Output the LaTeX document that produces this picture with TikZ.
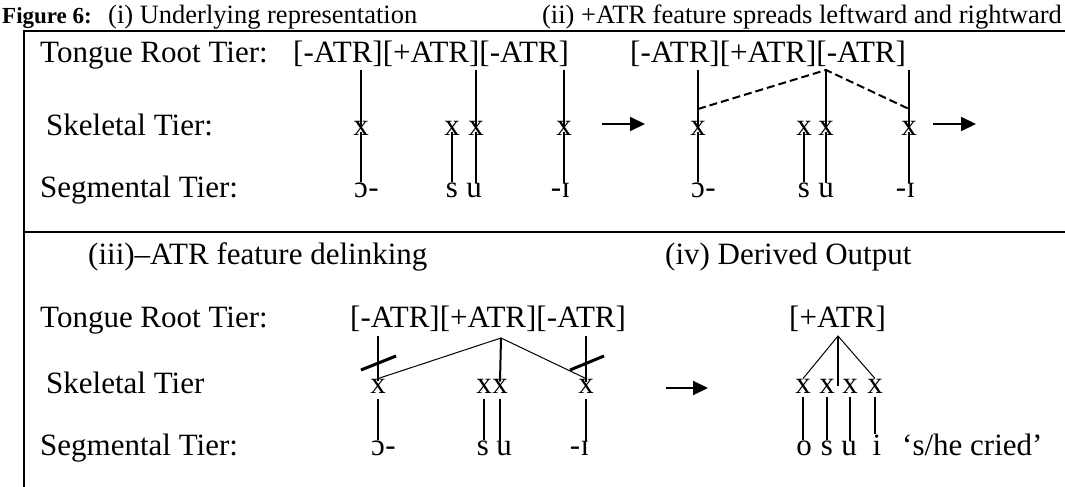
\documentclass[tikz,border=0pt]{standalone}
\usepackage{fontspec}
\setmainfont{Liberation Serif}
\usetikzlibrary{arrows.meta}
\begin{document}
\begin{tikzpicture}[x=1pt,y=-1pt,
  every node/.style={inner sep=0pt},
  lab/.style={anchor=base west,font=\fontsize{31}{37}\selectfont},
  captext/.style={anchor=base west,font=\fontsize{26.5}{31}\selectfont},
  seg/.style={anchor=base,font=\fontsize{31}{37}\selectfont},
  assoc/.style={line width=2pt},
  spread/.style={line width=2pt,dash pattern=on 8pt off 4pt},
  thinlink/.style={line width=1pt},
  cut/.style={line width=3pt},
  derive/.style={line width=2pt,-{Triangle[length=15pt,width=14pt]}},
  rule/.style={line width=2pt}]
\useasboundingbox (0,0) rectangle (1065,487);

% frame of the table
\coordinate (tl) at (24,31);
\coordinate (tr) at (1065,31);
\coordinate (bl) at (24,487);
\coordinate (ml) at (24,232);
\coordinate (mr) at (1065,232);
\draw[rule] (tr) -- (tl) -- (bl);
\draw[rule] (ml) -- (mr);

% caption
\node[anchor=base west,font=\fontsize{23}{28}\selectfont\bfseries] (fig) at (2,24) {Figure 6:};
\node[captext] (capi) at (108,24) {(i) Underlying representation};
\node[captext,anchor=base east] (capii) at (1062,24) {(ii) +ATR feature spreads leftward and rightward};

% ---------- (i) and (ii) ----------
\node[lab] (trA) at (40,63) {Tongue Root Tier:};
\node[lab] (ftA) at (293,63) {[-ATR][+ATR][-ATR]};
\node[lab] (ftB) at (630,63) {[-ATR][+ATR][-ATR]};
\node[lab] (skA) at (46,135) {Skeletal Tier:};
\node[lab] (sgA) at (40,197) {Segmental Tier:};

\coordinate (fA1) at (361,70);
\coordinate (fA2) at (476,70);
\coordinate (fA3) at (564,70);
\coordinate (fB1) at (698,70);
\coordinate (fB2) at (826,70);
\coordinate (fB3) at (909,70);

\node[seg] (xA1) at (361,135) {x};
\node[seg] (xA2) at (452,135) {x};
\node[seg] (xA3) at (476,135) {x};
\node[seg] (xA4) at (564,135) {x};
\node[seg] (xB1) at (698,135) {x};
\node[seg] (xB2) at (804,135) {x};
\node[seg] (xB3) at (826,135) {x};
\node[seg] (xB4) at (909,135) {x};

\node[seg] (oA) at (361,197) {ɔ};
\node[seg,anchor=base west] (hA1) at (oA.base east) {-};
\node[seg] (sA) at (452,197) {s};
\node[seg] (uA) at (474,197) {u};
\node[seg] (iA) at (566,197) {ɪ};
\node[seg,anchor=base east] (hA2) at (iA.base west) {-};

\node[seg] (oB) at (698,197) {ɔ};
\node[seg,anchor=base west] (hB1) at (oB.base east) {-};
\node[seg] (sB) at (804,197) {s};
\node[seg] (uB) at (826,197) {u};
\node[seg] (iB) at (911,197) {ɪ};
\node[seg,anchor=base east] (hB2) at (iB.base west) {-};

% association lines
\draw[assoc] (fA1) -- ([yshift=-5pt]xA1.north);
\draw[assoc] (fA2) -- ([yshift=-5pt]xA3.north);
\draw[assoc] (fA3) -- ([yshift=-5pt]xA4.north);
\draw[assoc] ([yshift=3pt]xA1.south) -- (xA1 |- oA.north);
\draw[assoc] ([yshift=3pt]xA2.south) -- (xA2 |- sA.north);
\draw[assoc] ([yshift=3pt]xA3.south) -- (xA3 |- uA.north);
\draw[assoc] ([yshift=3pt]xA4.south) -- (xA4 |- iA.north);

\draw[assoc] (fB1) -- ([yshift=-5pt]xB1.north);
\draw[assoc] (fB2) -- ([yshift=-5pt]xB3.north);
\draw[assoc] (fB3) -- ([yshift=-5pt]xB4.north);
\draw[assoc] ([yshift=3pt]xB1.south) -- (xB1 |- oB.north);
\draw[assoc] ([yshift=3pt]xB2.south) -- (xB2 |- sB.north);
\draw[assoc] ([yshift=3pt]xB3.south) -- (xB3 |- uB.north);
\draw[assoc] ([yshift=3pt]xB4.south) -- (xB4 |- iB.north);

% spreading of +ATR
\coordinate (dB1) at (698,109);
\coordinate (dB3) at (909,109);
\draw[spread] (dB1) -- (fB2) -- (dB3);

% derivation arrows
\coordinate (a1s) at (602,124);
\coordinate (a1e) at (645,124);
\coordinate (a2s) at (933,124);
\coordinate (a2e) at (976,124);
\draw[derive] (a1s) -- (a1e);
\draw[derive] (a2s) -- (a2e);

% ---------- (iii) and (iv) ----------
\node[lab] (capiii) at (88,264) {(iii)–ATR feature delinking};
\node[lab] (capiv) at (665,264) {(iv) Derived Output};
\node[lab] (trC) at (40,327) {Tongue Root Tier:};
\node[lab] (ftC) at (350,327) {[-ATR][+ATR][-ATR]};
\node[lab] (ftD) at (789,327) {[+ATR]};
\node[lab] (skC) at (46,393) {Skeletal Tier};
\node[lab] (sgC) at (40,455) {Segmental Tier:};

\coordinate (fC1) at (378,336);
\coordinate (fC2) at (501,338);
\coordinate (fC3) at (586,336);
\coordinate (fD) at (838,336);

\node[seg] (xC1) at (378,393) {x};
\node[seg] (xC2) at (484,393) {x};
\node[seg] (xC3) at (500,393) {x};
\node[seg] (xC4) at (586,393) {x};
\node[seg] (xD1) at (803,393) {x};
\node[seg] (xD2) at (827,393) {x};
\node[seg] (xD3) at (850,393) {x};
\node[seg] (xD4) at (875,393) {x};

\node[seg] (oC) at (378,455) {ɔ};
\node[seg,anchor=base west] (hC1) at (oC.base east) {-};
\node[seg] (sC) at (483,455) {s};
\node[seg] (uC) at (504,455) {u};
\node[seg] (iC) at (585,455) {ɪ};
\node[seg,anchor=base east] (hC2) at (iC.base west) {-};

\node[seg] (oD) at (804,455) {o};
\node[seg] (sD) at (827,455) {s};
\node[seg] (uD) at (849,455) {u};
\node[seg] (iD) at (877,455) {i};
\node[lab] (gloss) at (902,455) {‘s/he cried’};

% delinking of -ATR
\draw[assoc] (fC1) -- ([yshift=-2pt]xC1.north);
\draw[assoc] (fC2) -- ([yshift=-3pt]xC3.north);
\draw[assoc] (fC3) -- ([yshift=-3pt]xC4.north);
\draw[thinlink] (xC1.north) -- (fC2) -- (xC4.north);
\coordinate (kC1a) at (361,370);
\coordinate (kC1b) at (396,356);
\coordinate (kC3a) at (570,370);
\coordinate (kC3b) at (604,356);
\draw[cut] (kC1a) -- (kC1b);
\draw[cut] (kC3a) -- (kC3b);
\draw[assoc] ([yshift=-6pt]xC1.south) -- (xC1 |- oC.north);
\draw[assoc] ([yshift=-6pt]xC2.south) -- (xC2 |- sC.north);
\draw[assoc] ([yshift=-6pt]xC3.south) -- (xC3 |- uC.north);
\draw[assoc] ([yshift=-6pt]xC4.south) -- (xC4 |- iC.north);

\coordinate (a3s) at (666,388);
\coordinate (a3e) at (708,388);
\draw[derive] (a3s) -- (a3e);

% derived output
\draw[thinlink] (xD1.north) -- (fD) -- (xD4.north);
\draw[assoc] (fD) -- (fD |- xD2.center);
\draw[assoc] ([yshift=-4pt]xD1.south) -- (xD1 |- oD.north);
\draw[assoc] ([yshift=-4pt]xD2.south) -- (xD2 |- sD.north);
\draw[assoc] ([yshift=-4pt]xD3.south) -- (xD3 |- uD.north);
\draw[assoc] ([yshift=-4pt]xD4.south) -- (xD4 |- iD.north);
\end{tikzpicture}
\end{document}
